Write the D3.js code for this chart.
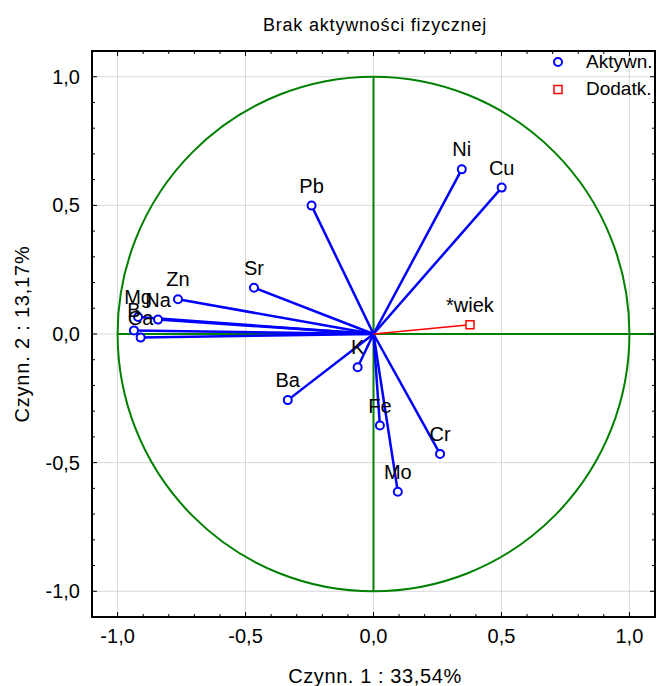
<!DOCTYPE html>
<html>
<head>
<meta charset="utf-8">
<script src="https://cdn.jsdelivr.net/npm/d3@7"></script>
<style>
  html, body { margin: 0; padding: 0; background: #fff; }
  svg { display: block; font-family: "Liberation Sans", Arial, sans-serif; }
</style>
</head>
<body>
<svg id="chart" width="657" height="686"></svg>
<script>
// Active variables: loadings on factor 1 and factor 2
const activeNames = ["Ni", "Cu", "Pb", "Sr", "Zn", "Na", "Mg", "B", "Ca", "K", "Ba", "Fe", "Cr", "Mo"];
const activeF1 = [0.345, 0.501, -0.242, -0.467, -0.764, -0.842, -0.920, -0.936, -0.910, -0.062, -0.335, 0.025, 0.260, 0.095];
const activeF2 = [0.640, 0.569, 0.499, 0.180, 0.135, 0.056, 0.066, 0.014, -0.014, -0.129, -0.257, -0.356, -0.466, -0.613];

// Supplementary variables
const suppNames = ["*wiek"];
const suppF1 = [0.377];
const suppF2 = [0.036];

const tickValues = [-1.0, -0.5, 0.0, 0.5, 1.0];
const legendLabels = ["Aktywn.", "Dodatk."];

const title = "Brak aktywności fizycznej";
const xTitle = "Czynn. 1 : 33,54%";
const yTitle = "Czynn. 2 : 13,17%";

(function draw() {
  const svg = d3.select("#chart");
  const pL = 92, pR = 655, pT = 51, pB = 617;

  const x = d3.scaleLinear().domain([-1.1, 1.1]).range([pL, pR]);
  const y = d3.scaleLinear().domain([-1.1, 1.1]).range([pB, pT]);
  const fmt = v => d3.format(".1f")(v).replace(".", ",").replace("−", "-");

  const blue = "#0000ff", red = "#ff0000", green = "#008000";

  // grid lines
  const grid = svg.append("g").attr("stroke", "#d9d9d9").attr("stroke-width", 1);
  tickValues.forEach(v => {
    grid.append("line").attr("x1", x(v)).attr("x2", x(v)).attr("y1", pT).attr("y2", pB);
    grid.append("line").attr("y1", y(v)).attr("y2", y(v)).attr("x1", pL).attr("x2", pR);
  });

  // unit circle and axes through origin
  const g = svg.append("g").attr("fill", "none").attr("stroke", green).attr("stroke-width", 2);
  g.append("ellipse")
    .attr("cx", x(0)).attr("cy", y(0))
    .attr("rx", x(1) - x(0)).attr("ry", y(0) - y(1));
  g.append("line").attr("x1", x(-1)).attr("x2", x(1.1)).attr("y1", y(0)).attr("y2", y(0));
  g.append("line").attr("x1", x(0)).attr("x2", x(0)).attr("y1", y(1)).attr("y2", y(-1));

  // vectors
  const active = activeNames.map((n, i) => ({ name: n, a: activeF1[i], b: activeF2[i] }));
  const supp = suppNames.map((n, i) => ({ name: n, a: suppF1[i], b: suppF2[i] }));

  svg.append("g").selectAll("line").data(active).join("line")
    .attr("x1", x(0)).attr("y1", y(0))
    .attr("x2", d => x(d.a)).attr("y2", d => y(d.b))
    .attr("stroke", blue).attr("stroke-width", 2.5);
  svg.append("g").selectAll("line").data(supp).join("line")
    .attr("x1", x(0)).attr("y1", y(0))
    .attr("x2", d => x(d.a)).attr("y2", d => y(d.b))
    .attr("stroke", red).attr("stroke-width", 1.5);

  svg.append("g").selectAll("circle").data(active).join("circle")
    .attr("cx", d => x(d.a)).attr("cy", d => y(d.b)).attr("r", 4)
    .attr("fill", "#fff").attr("stroke", blue).attr("stroke-width", 2);
  svg.append("g").selectAll("rect").data(supp).join("rect")
    .attr("x", d => x(d.a) - 4).attr("y", d => y(d.b) - 4)
    .attr("width", 8).attr("height", 8)
    .attr("fill", "#fff").attr("stroke", red).attr("stroke-width", 1.5);

  // point labels
  svg.append("g").attr("font-size", 20).attr("text-anchor", "middle").attr("fill", "#000")
    .selectAll("text").data(active.concat(supp)).join("text")
    .attr("x", d => x(d.a)).attr("y", d => y(d.b) - 13)
    .text(d => d.name);

  // ticks (inward, minor every 0.1)
  const minor = d3.range(-11, 12).map(v => v / 10);
  const ticks = svg.append("g").attr("stroke", "#000").attr("stroke-width", 1);
  minor.forEach(v => {
    const major = Math.abs(Math.round(v * 10) % 5) === 0;
    const len = major ? 5 : 3;
    ticks.append("line").attr("x1", x(v)).attr("x2", x(v)).attr("y1", pB).attr("y2", pB - len);
    ticks.append("line").attr("x1", x(v)).attr("x2", x(v)).attr("y1", pT).attr("y2", pT + len);
    ticks.append("line").attr("y1", y(v)).attr("y2", y(v)).attr("x1", pL).attr("x2", pL + len);
    ticks.append("line").attr("y1", y(v)).attr("y2", y(v)).attr("x1", pR).attr("x2", pR - len);
  });

  // frame
  svg.append("rect").attr("x", pL).attr("y", pT).attr("width", pR - pL).attr("height", pB - pT)
    .attr("fill", "none").attr("stroke", "#000").attr("stroke-width", 2);

  // tick labels
  svg.append("g").attr("font-size", 20).attr("text-anchor", "middle")
    .selectAll("text").data(tickValues).join("text")
    .attr("x", d => x(d)).attr("y", 643).text(fmt);
  svg.append("g").attr("font-size", 20).attr("text-anchor", "end")
    .selectAll("text").data(tickValues).join("text")
    .attr("x", 80).attr("y", d => y(d) + 7).text(fmt);

  // titles
  svg.append("text").attr("x", 375).attr("y", 31).attr("text-anchor", "middle")
    .attr("font-size", 18).attr("letter-spacing", 0.8).text(title);
  svg.append("text").attr("x", 375).attr("y", 683).attr("text-anchor", "middle")
    .attr("font-size", 20).attr("letter-spacing", 0.6).text(xTitle);
  svg.append("text").attr("transform", "translate(29,334) rotate(-90)").attr("text-anchor", "middle")
    .attr("font-size", 20).attr("letter-spacing", 0.8).text(yTitle);

  // legend
  const lg = svg.append("g");
  lg.append("circle").attr("cx", 558).attr("cy", 62).attr("r", 4)
    .attr("fill", "#fff").attr("stroke", blue).attr("stroke-width", 2);
  lg.append("rect").attr("x", 554).attr("y", 85.5).attr("width", 8).attr("height", 8)
    .attr("fill", "#fff").attr("stroke", red).attr("stroke-width", 1.5);
  lg.selectAll("text").data(legendLabels).join("text")
    .attr("x", 586).attr("y", (d, i) => 68 + i * 27)
    .attr("font-size", 19).text(d => d);
})();
</script>
</body>
</html>
